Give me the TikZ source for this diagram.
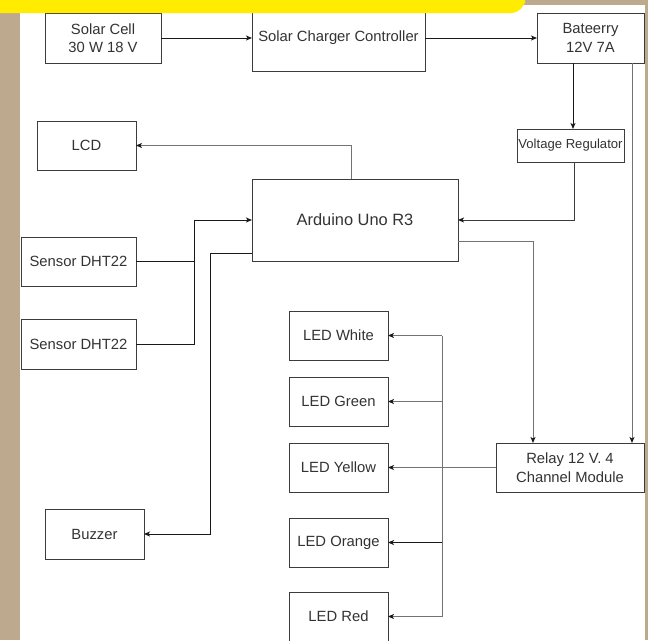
\documentclass[tikz,border=0pt]{standalone}
\usepackage{fontspec}
\setmainfont{Liberation Sans}
\usetikzlibrary{arrows.meta}
\definecolor{tanbg}{RGB}{188,169,142}
\definecolor{bannery}{RGB}{255,236,0}
\definecolor{boxc}{RGB}{60,60,60}
\definecolor{txtc}{RGB}{51,51,51}
\definecolor{ldark}{RGB}{25,25,25}
\definecolor{lgray}{RGB}{115,115,115}
\tikzset{
  blk/.style={draw=boxc, line width=1pt, fill=white, text=txtc, inner sep=0pt, outer sep=0pt,
    align=center, font=\fontsize{14.8}{18.5}\selectfont},
  conn/.style={line width=1pt, draw=ldark, -{Stealth[length=6pt,width=5pt,inset=1.5pt,color=ldark]}},
  plain/.style={line width=1pt, draw=ldark},
  grayl/.style={draw=lgray},
}
\begin{document}
\begin{tikzpicture}[x=1pt,y=-1pt]
\useasboundingbox (0,0) rectangle (648,640);
\fill[fill=tanbg] (0,0) rectangle (648,640);
\fill[fill=white] (20,5) rectangle (645,650);

% nodes
\node[blk, minimum width=116, minimum height=50] (solar) at (103,38) {Solar Cell\\30 W 18 V};
\node[blk, minimum width=173, minimum height=66] (scc) at (338.5,38) {Solar Charger Controller};
\node[blk, minimum width=107, minimum height=50] (bat) at (590.5,38) {Bateerry\\12V 7A};
\node[blk, minimum width=99, minimum height=49] (lcd) at (86.5,145.5) {LCD};
\node[blk, minimum width=107, minimum height=33, font=\fontsize{13.1}{16}\selectfont] (vr) at (570.5,145.5) {Voltage Regulator};
\node[blk, minimum width=206, minimum height=82, font=\fontsize{16.4}{20}\selectfont] (ard) at (355,220) {Arduino Uno R3};
\node[blk, minimum width=115, minimum height=49] (s1) at (78.5,261.5) {Sensor DHT22};
\node[blk, minimum width=115, minimum height=50] (s2) at (78.5,344) {Sensor DHT22};
\node[blk, minimum width=99, minimum height=49] (lw) at (338.5,335.5) {LED White};
\node[blk, minimum width=99, minimum height=49] (lg) at (338.5,401.5) {LED Green};
\node[blk, minimum width=99, minimum height=49] (ly) at (338.5,467.5) {LED Yellow};
\node[blk, minimum width=99, minimum height=49] (lo) at (338.5,542.5) {LED Orange};
\node[blk, minimum width=99, minimum height=49] (lr) at (338.5,616.5) {LED Red};
\node[blk, minimum width=148, minimum height=49] (relay) at (570,467.5) {Relay 12 V. 4\\Channel Module};
\node[blk, minimum width=99, minimum height=50] (buz) at (94.5,534) {Buzzer};

% helper coordinates
\coordinate (xa) at (573,0);
\coordinate (xb) at (632,0);
\coordinate (xc) at (574,0);
\coordinate (xd) at (351,0);
\coordinate (jn) at (194,220);
\coordinate (b1) at (210,253);
\coordinate (r1) at (533,241);
\coordinate (bx) at (442,0);

% connectors
\draw[conn] (solar.east) -- (scc.west);
\draw[conn] (scc.east) -- (bat.west);
\draw[conn] (bat.south -| xa) -- (vr.north -| xa);
\draw[conn, grayl] (bat.south -| xb) -- (relay.north -| xb);
\draw[conn, draw=boxc] (vr.south -| xc) |- (ard.east);
\draw[conn, grayl] (ard.north -| xd) |- (lcd.east);
\draw[plain] (s1.east) -- (s1.east -| jn);
\draw[conn] (s2.east) -| (jn) -- (ard.west);
\draw[conn] (ard.west |- b1) -- (b1) |- (buz.east);
\draw[conn, grayl] (ard.east |- r1) -- (r1) -- (relay.north -| r1);
\draw[conn, grayl] (relay.west) -- (ly.east);
\draw[plain, grayl] (bx |- lr.east) -- (bx |- lw.east);
\draw[conn, grayl] (bx |- lw.east) -- (lw.east);
\draw[conn, grayl] (bx |- lg.east) -- (lg.east);
\draw[conn] (bx |- lo.east) -- (lo.east);
\draw[conn, grayl] (bx |- lr.east) -- (lr.east);

% yellow banner on top
\fill[fill=bannery] (-10,-10) -- (-10,13) [rounded corners=14pt] -- (525,13) -- (525,-10) -- cycle;
\end{tikzpicture}
\end{document}
